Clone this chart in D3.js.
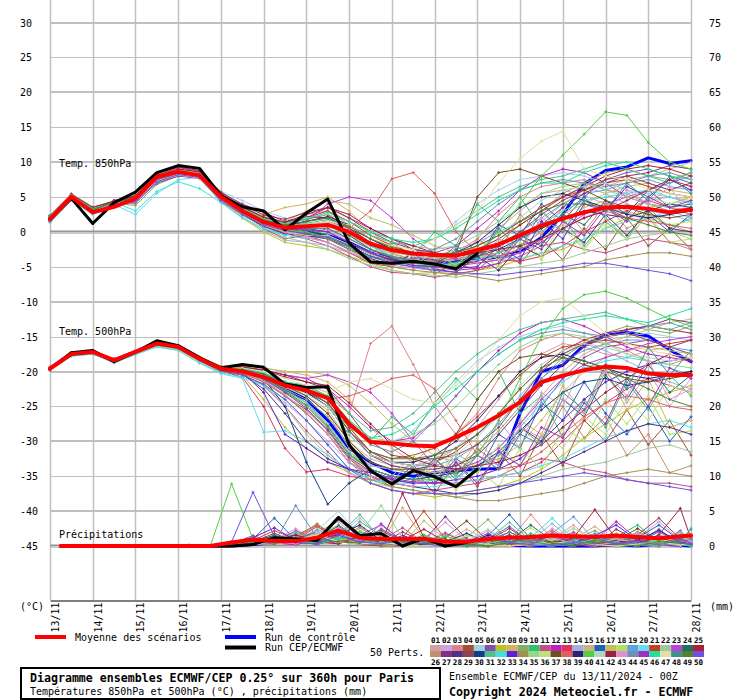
<!DOCTYPE html>
<html><head><meta charset="utf-8">
<script src="https://cdn.jsdelivr.net/npm/d3@7"></script>
<style>body{margin:0;background:#fff} svg{display:block} text{font-family:"DejaVu Sans Mono",monospace}</style>
</head><body><svg id="c" width="740" height="700"></svg>
<script>
const dayLabels = ["13/11","14/11","15/11","16/11","17/11","18/11","19/11","20/11","21/11","22/11","23/11","24/11","25/11","26/11","27/11","28/11"];
const leftTicks = [30,25,20,15,10,5,0,-5,-10,-15,-20,-25,-30,-35,-40,-45];
const rightTicks = [75,70,65,60,55,50,45,40,35,30,25,20,15,10,5,0];
const memberColors = ["#d4a0a8","#d0a0e0","#e08088","#a05030","#a0d0e8","#8050b0","#c0c020","#d8b060","#80b060","#30c070","#c05080","#c020c0","#e03060","#a0b0e0","#d0b080","#2060c0","#c0c060","#b0e060","#60a0e0","#60e0f0","#c04020","#a0c8a0","#c040e0","#207060","#b02030",
"#c09070","#803080","#503080","#904050","#104080","#50c090","#40e0e0","#6020d0","#a09050","#90d890","#c0e080","#705020","#e06060","#302070","#50d040","#b0d8c0","#a02040","#e090d0","#7090b0","#a030c0","#20e0a0","#e0e0a0","#409090","#508030","#7050e0"];

// temperatures every 12h from 13/11 00Z ; precipitation at 06Z/18Z steps
const t850Mean = [1.8,5.0,2.8,3.6,4.8,7.9,8.6,8.1,5.0,3.0,1.4,0.6,0.8,1.0,0.0,-1.7,-2.6,-3.1,-3.3,-3.4,-2.6,-1.8,-0.5,0.9,1.9,2.8,3.5,3.6,3.3,2.8,3.2];
const t850Ctrl = [1.8,5.0,3.0,4.0,4.6,7.5,8.6,8.2,4.8,3.0,1.5,0.5,0.0,-0.5,-1.5,-3.0,-3.8,-4.0,-4.2,-4.5,-4.0,-3.6,-2.8,-0.8,2.5,6.9,8.8,9.3,10.6,9.8,10.2];
const t850Det = [1.8,4.8,1.2,4.2,5.7,8.5,9.5,9.1,5.2,3.6,3.0,0.3,2.7,4.7,-1.6,-4.3,-4.5,-4.2,-4.6,-5.3,-3.1];
const t500Mean = [-19.6,-17.5,-17.2,-18.4,-17.2,-16.0,-16.5,-18.2,-19.6,-20.0,-20.8,-22.0,-22.7,-23.8,-27.5,-30.1,-30.3,-30.6,-30.7,-29.4,-28.0,-26.3,-24.4,-21.5,-20.6,-19.8,-19.3,-19.5,-20.3,-20.5,-20.5];
const t500Ctrl = [-19.5,-17.5,-17.3,-18.5,-17.3,-16.0,-16.5,-18.2,-19.8,-19.8,-20.5,-22.5,-24.0,-27.0,-31.0,-33.0,-34.5,-35.0,-34.5,-34.2,-34.0,-33.9,-26.0,-20.0,-19.1,-16.2,-14.8,-14.4,-14.9,-16.9,-18.6];
const t500Det = [-19.6,-17.3,-17.0,-18.6,-17.2,-15.6,-16.3,-18.0,-19.5,-19.0,-19.4,-21.8,-22.3,-22.2,-30.5,-34.2,-36.1,-34.2,-35.1,-36.5,-34.0];
const precipMean = [0,0,0,0,0,0,0,0,0.5,0.9,0.7,0.7,1.2,2.2,1.2,1.0,1.0,1.0,0.6,0.6,1.0,1.2,1.3,1.5,1.4,1.3,1.5,1.3,1.1,1.4,1.5];
const precipCtrl = [0,0,0,0,0,0,0,0,0,0.2,0.5,0.8,0.4,1.0,1.5,0.6,0.4,0.3,0.2,0.3,0.5,0.1,0,0,0,0,0.2,0,0.3,0.1,0];
const precipDet = [0,0,0,0,0,0,0,0,0,0.2,1.2,1.0,0.8,4.1,1.5,1.8,0,1.1,0,0.5];

const t850Members = [
[1.5,4.8,2.8,4.2,4.5,7.2,8.3,7.8,4.6,3.2,1.0,0.2,1.5,0.5,-1.5,-3.0,-3.8,-4.2,-4.0,-3.5,-2.0,0.5,3.0,5.5,6.0,5.2,4.0,3.5,4.5,5.0,4.2],
[2.2,5.3,3.4,4.0,5.2,8.0,8.8,8.3,5.5,2.5,0.8,-0.5,0.2,1.8,0.5,-2.5,-4.5,-5.0,-4.8,-5.2,-4.0,-3.5,-3.0,-1.5,0.5,2.0,3.5,2.8,1.5,2.5,3.0],
[1.8,4.9,3.1,4.4,4.0,7.5,8.6,8.2,4.9,3.5,2.0,1.2,2.5,3.0,1.0,-1.0,-2.5,-3.5,-4.0,-3.0,-1.0,2.5,5.0,6.5,7.0,7.5,6.0,5.5,4.0,3.0,3.5],
[1.6,5.1,3.0,3.8,4.6,7.8,8.4,7.9,5.2,3.0,0.5,-1.0,-0.5,-1.5,-3.0,-4.5,-5.0,-3.5,-6.0,-4.5,-5.5,-2.8,-4.5,-1.0,-4.0,0.5,-2.5,2.0,-2.0,0.5,-2.5],
[2.0,5.2,3.3,4.1,4.9,7.0,8.2,8.5,5.8,4.5,3.0,2.0,1.0,0.0,-1.0,-2.0,-3.0,-2.5,-1.0,1.5,4.0,6.0,7.5,8.0,8.5,8.0,7.0,6.0,5.5,5.0,4.5],
[1.7,4.7,2.9,4.3,5.0,7.9,9.0,8.6,5.0,2.8,1.5,0.5,0.0,-1.0,-2.5,-3.5,-4.0,-4.5,-4.2,-3.8,-3.5,-3.0,-2.0,0.0,2.5,5.0,7.5,8.5,9.0,8.0,7.0],
[2.3,5.0,3.5,4.5,4.3,7.4,8.5,8.0,4.4,2.0,0.0,-1.5,-2.0,-2.5,-3.5,-4.5,-5.5,-6.0,-5.8,-6.2,-5.5,-5.0,-4.0,-3.0,-2.5,-1.0,0.5,2.0,3.5,4.0,5.0],
[1.9,5.4,3.2,4.0,4.7,7.6,8.7,8.1,5.3,3.8,2.5,3.5,4.0,5.0,3.0,0.0,-2.0,-3.5,-4.0,-4.5,-4.2,-3.5,-2.5,-1.0,1.0,3.5,4.5,3.0,2.0,1.0,0.0],
[1.4,4.6,2.7,4.1,3.8,6.8,8.0,7.8,4.8,3.0,1.2,0.8,1.5,2.0,0.5,-1.5,-3.0,-4.0,-4.5,-4.0,-3.0,-1.5,1.0,3.0,5.5,7.0,8.5,9.0,8.0,7.5,8.5],
[2.1,5.0,3.0,3.9,5.1,7.7,8.5,8.2,5.0,3.3,1.8,1.0,0.5,-0.5,-2.0,-3.0,-1.5,-3.5,0.0,-2.0,4.0,1.5,5.0,0.5,2.0,-2.0,1.5,-1.0,3.5,0.5,2.0],
[1.8,5.1,3.1,4.2,4.8,7.5,8.4,7.9,4.7,2.6,0.9,-0.2,-1.0,-2.0,-3.5,-5.0,-5.8,-6.0,-6.5,-6.0,-5.5,-4.5,-3.5,-2.0,-1.5,-2.5,-3.0,-2.0,-1.0,-1.5,-2.0],
[2.0,4.9,3.3,4.0,4.4,7.3,8.3,8.4,5.6,4.0,2.8,1.5,2.0,3.5,2.0,0.5,-1.0,-2.5,-3.0,-2.0,0.5,3.0,6.0,8.0,9.0,8.5,7.0,5.0,4.0,3.5,3.0],
[1.6,4.8,2.6,4.5,4.9,8.1,9.2,8.7,5.1,3.1,1.1,0.0,-0.5,0.5,-1.0,-2.5,-3.5,-4.0,-4.5,-4.8,-4.5,-4.0,-4.2,-3.5,-2.0,0.0,1.5,3.0,4.5,3.5,2.5],
[1.5,5.0,3.0,3.7,4.6,7.6,8.6,8.0,4.5,2.2,0.2,-1.2,-1.5,-2.0,-3.0,-4.0,-4.5,-4.0,-3.5,-2.5,-1.5,0.0,1.5,3.5,5.0,6.5,5.5,4.0,3.0,2.5,1.5],
[2.4,5.5,3.6,4.3,5.3,8.2,8.9,8.5,5.4,3.4,1.6,0.4,0.8,1.0,-0.5,-2.0,-3.2,-4.0,-4.2,-4.0,-3.8,-3.0,-1.0,1.5,4.0,6.0,6.5,7.5,8.0,9.0,10.0],
[1.7,4.7,2.9,4.1,4.2,7.1,8.2,7.7,4.3,2.7,1.3,0.6,-0.5,-1.0,-2.5,-4.0,-5.0,-3.0,-5.5,-2.5,-4.0,1.0,-0.5,4.0,1.5,5.0,2.0,-1.0,2.5,0.0,2.5],
[2.0,5.2,3.2,4.0,4.8,7.8,8.8,8.2,5.0,3.6,2.2,1.5,3.0,4.5,4.0,2.0,1.0,-0.5,-2.0,-3.0,-3.5,-3.0,-2.0,0.0,2.5,4.0,5.5,6.5,7.0,6.0,5.5],
[1.8,5.0,3.0,4.4,4.6,7.4,8.4,8.0,4.8,2.9,1.2,0.3,0.5,0.0,-1.5,-3.0,-4.0,-4.5,-2.5,-5.5,-3.0,-5.0,-1.5,-4.0,0.5,-2.5,2.0,-1.0,2.5,-1.5,-1.0],
[1.9,4.8,3.1,4.2,4.9,7.7,8.5,8.1,5.1,3.0,1.4,0.7,1.0,1.5,0.0,-2.0,-3.5,-4.2,-4.5,-4.2,-3.5,-2.0,0.0,2.0,4.0,5.5,6.0,7.0,7.5,6.5,6.0],
[1.3,4.5,2.5,3.9,2.5,5.5,7.5,7.8,4.9,3.1,1.0,-0.5,-1.0,-0.5,-2.0,-3.5,-4.5,-5.0,-4.8,-4.5,-4.0,-3.5,-3.8,-3.0,-2.0,-1.0,0.5,1.5,2.0,3.0,2.0],
[2.2,5.1,3.4,4.3,5.0,7.9,8.8,8.3,5.2,3.3,1.7,1.0,2.0,3.0,1.5,-0.5,-2.0,-3.0,-3.5,-3.0,-2.0,-0.5,1.5,3.5,5.0,6.0,7.0,7.5,6.5,5.5,5.0],
[1.6,4.9,2.8,4.0,4.4,7.2,8.1,7.6,4.4,2.4,0.6,-0.8,-1.5,-2.5,-3.8,-4.8,-5.5,-6.0,-6.2,-6.5,-6.0,-5.5,-5.0,-4.5,-4.0,-3.0,-2.0,-1.0,-0.5,0.0,-1.0],
[2.0,5.3,3.3,4.1,4.7,7.6,8.6,8.1,5.0,3.2,1.5,0.8,1.5,4.0,5.0,4.5,2.0,-1.0,-3.0,-4.0,-4.5,-4.0,-3.0,-1.5,0.5,2.5,4.0,5.0,6.0,7.0,8.0],
[1.8,5.0,3.0,4.2,4.8,7.5,8.5,8.0,4.9,3.0,1.4,0.6,0.2,-0.5,-2.0,-3.5,-4.2,-4.5,-4.8,-5.0,-2.5,-4.0,-0.5,-2.0,2.5,1.0,4.5,2.5,6.0,3.5,4.0],
[1.7,4.6,2.7,4.5,5.1,8.0,8.7,8.4,5.3,3.5,2.0,1.2,1.8,2.5,0.5,-1.5,-2.8,-3.5,-3.8,-3.5,-2.5,-1.0,1.0,3.0,5.0,6.5,8.0,9.0,9.5,9.0,8.0],
[2.1,5.2,3.2,3.9,4.5,7.3,8.2,7.9,4.6,2.8,1.1,0.1,-0.8,-1.5,-3.0,-4.2,-5.0,-5.5,-3.5,-4.8,-1.0,-3.0,2.5,-0.5,3.5,0.0,4.0,0.5,2.0,-1.5,-2.5],
[1.9,5.0,3.1,4.3,4.9,7.8,8.7,8.2,5.1,3.4,1.9,1.3,2.2,2.0,0.5,-1.0,-2.5,-3.5,-4.0,-4.5,-4.2,-3.0,-1.0,1.0,3.5,5.5,7.0,8.0,8.5,9.5,9.0],
[1.5,4.7,2.8,4.0,4.3,7.0,8.0,7.7,4.5,2.5,0.8,-0.3,-0.5,-1.0,-2.2,-3.8,-4.8,-3.0,-5.3,-5.8,-3.5,-5.5,-2.0,-3.5,0.5,-1.5,2.5,-0.5,3.0,0.5,0.0],
[2.3,5.4,3.5,4.4,5.2,8.3,9.3,8.8,5.7,3.9,2.4,1.8,2.8,3.5,2.0,0.0,-1.5,-2.5,-3.0,-3.5,-3.0,-2.0,0.0,2.5,4.5,6.0,7.5,8.0,7.0,6.0,7.0],
[1.8,4.9,3.0,4.1,4.6,7.5,8.4,8.0,4.8,2.9,1.3,0.5,0.0,-0.5,-1.8,-3.2,-4.0,-4.5,-4.5,-4.2,-3.5,-2.5,-1.0,0.5,2.0,3.0,2.5,2.0,3.0,4.0,3.5],
[2.0,5.1,3.2,4.2,4.8,7.6,8.5,8.1,5.0,3.1,1.5,0.8,1.2,1.8,0.8,-0.5,-1.5,-2.0,-1.0,1.0,3.0,5.0,6.5,7.5,8.0,9.0,10.0,9.0,8.0,7.0,8.5],
[1.4,4.5,2.6,4.3,3.0,5.8,7.2,6.2,4.2,2.0,0.5,-0.5,0.5,1.0,-0.5,-2.0,-3.5,-4.5,-5.0,-4.5,-4.0,-3.0,-1.0,1.0,3.0,4.5,5.0,5.5,6.0,5.0,4.0],
[1.9,5.0,3.1,4.0,4.7,7.7,8.6,8.2,5.1,3.2,1.6,0.7,0.5,0.0,-1.5,-3.0,-4.0,-4.8,-5.0,-5.2,-5.0,-2.0,-4.0,1.5,-1.0,4.0,3.0,6.5,5.0,7.5,6.0],
[1.7,4.8,2.9,4.2,4.5,7.4,8.3,7.9,4.7,2.8,1.2,0.4,-0.2,-1.0,-2.5,-4.0,-5.0,-5.5,-5.8,-6.0,-6.5,-7.0,-6.5,-6.0,-5.5,-5.0,-4.0,-3.5,-3.0,-3.0,-3.5],
[2.2,5.2,3.4,4.3,5.0,7.9,8.8,8.4,5.3,3.4,1.9,1.2,2.0,2.5,1.5,0.0,-1.0,-2.0,-2.5,-2.0,-0.5,1.5,3.5,5.5,6.5,7.0,6.0,5.0,4.0,3.5,3.0],
[1.6,4.7,2.8,4.1,4.4,7.2,8.2,7.8,4.6,2.7,1.0,0.0,-0.5,-0.5,-1.8,-3.2,-4.2,-4.8,-3.0,-4.8,-2.0,-4.0,-1.0,-3.5,1.5,-2.5,1.0,-1.0,2.5,1.0,1.5],
[2.0,5.1,3.2,4.2,4.8,7.6,8.5,8.1,4.9,3.0,1.4,0.6,0.8,1.0,-0.5,-2.5,-3.8,-4.5,-4.5,-3.0,5.0,8.5,9.0,8.0,7.0,6.0,4.5,3.5,2.5,2.0,2.5],
[1.8,4.9,3.0,4.0,4.6,7.5,8.4,8.0,4.8,2.9,1.3,0.5,1.0,1.5,0.5,3.0,7.6,8.5,5.5,0.0,-3.0,-3.5,-2.5,-1.0,0.5,2.0,3.0,2.0,1.5,1.0,0.5],
[2.1,5.0,3.1,4.3,4.9,7.8,8.7,8.3,5.1,3.2,1.6,0.9,1.5,2.2,1.0,-1.0,-2.5,-3.2,-3.5,-3.0,-1.5,1.0,3.5,5.0,5.5,4.5,3.5,2.5,2.0,2.5,3.0],
[1.6,4.8,2.9,4.1,4.5,7.3,8.3,7.9,4.7,2.8,1.2,0.3,0.0,-0.8,-2.2,-3.6,-4.5,-5.0,-5.2,-4.8,-3.0,0.0,4.0,8.0,11.0,14.0,17.2,16.7,12.8,10.0,9.0],
[1.9,5.1,3.2,4.0,4.8,7.7,8.6,8.1,5.0,3.1,1.5,0.8,1.0,1.5,0.2,-1.5,-2.8,-3.5,-3.8,-3.5,-2.5,-0.5,2.0,4.5,6.0,6.5,7.0,6.0,5.0,4.0,4.5],
[2.3,5.3,3.5,4.4,5.1,8.1,9.0,8.6,5.5,3.6,2.1,1.4,2.5,3.5,2.5,0.5,-1.0,-2.0,-3.0,-3.5,-3.0,-2.5,-2.0,-1.0,0.5,2.0,3.0,4.5,6.0,7.5,6.5],
[1.5,4.6,2.7,4.2,4.3,7.1,8.1,7.7,4.5,2.6,1.0,0.0,-0.8,-1.5,-2.8,-4.0,-4.8,-5.2,-5.5,-3.0,-4.5,-1.0,-2.5,2.0,0.0,4.5,2.5,6.0,4.0,6.5,2.0],
[2.0,5.0,3.1,4.1,4.7,7.6,8.5,8.0,4.9,3.0,1.4,0.6,0.8,1.2,0.0,-1.5,-2.5,-3.0,-2.5,-1.0,1.5,4.0,6.0,7.0,7.5,7.0,6.5,7.0,8.0,8.5,7.5],
[1.8,4.9,3.0,4.3,4.6,7.4,8.4,8.0,4.8,2.9,1.2,0.4,0.3,0.0,-1.5,-3.0,-4.2,-4.8,-5.0,-5.5,-5.2,-4.5,-1.0,-2.5,1.5,-0.5,3.5,1.5,5.0,3.5,4.5],
[2.2,5.2,3.3,4.0,5.0,7.8,8.7,8.3,5.2,3.3,1.8,1.1,1.8,2.8,1.5,0.0,-1.0,-1.5,-1.0,0.5,2.5,4.5,6.0,7.0,7.0,8.5,9.5,10.0,9.0,8.0,7.5],
[1.7,4.8,2.9,4.1,4.5,7.3,8.2,7.8,4.6,2.7,1.0,0.5,1.0,1.5,1.0,-1.0,-2.0,-2.5,-1.0,1.0,3.0,7.0,10.5,13.0,14.4,9.0,8.0,7.5,6.0,5.5,5.0],
[1.9,5.0,3.1,4.2,4.8,7.6,8.5,8.1,5.0,3.1,1.5,0.7,0.5,0.5,-1.0,-2.5,-3.5,-4.2,-4.5,-2.0,-4.0,0.5,-2.5,3.0,0.0,4.5,3.0,7.0,4.5,8.0,5.5],
[2.1,5.1,3.2,4.3,4.9,7.8,8.6,8.2,5.1,3.2,1.7,1.0,1.5,2.0,0.8,-1.0,-2.2,-3.0,-3.2,-3.0,-2.0,-0.5,1.5,3.0,4.0,4.0,3.5,2.0,1.0,0.0,-0.5],
[1.6,4.7,2.8,4.0,4.4,7.2,8.2,7.8,4.5,2.6,1.0,0.2,-0.3,-0.8,-2.0,-3.5,-4.5,-5.0,-5.5,-5.8,-6.0,-6.2,-5.8,-5.5,-5.0,-4.5,-4.5,-5.0,-5.5,-6.0,-7.0]
];

const t500Members = [
[-19.5,-17.4,-17.0,-18.3,-17.0,-15.8,-16.3,-18.0,-19.3,-19.5,-20.3,-22.0,-23.5,-26.0,-31.0,-33.5,-34.0,-34.5,-33.0,-31.0,-28.0,-24.0,-20.0,-17.5,-16.0,-16.5,-17.5,-18.0,-17.0,-16.5,-17.5],
[-19.8,-17.7,-17.3,-18.6,-17.4,-16.2,-16.7,-18.5,-20.0,-20.5,-22.0,-24.5,-27.0,-30.0,-33.0,-34.5,-35.5,-33.0,-36.5,-31.5,-34.0,-27.0,-31.0,-23.0,-25.0,-19.0,-20.5,-24.5,-20.0,-25.0,-21.0],
[-19.4,-17.3,-17.1,-18.2,-17.1,-15.9,-16.4,-18.1,-19.4,-19.6,-20.2,-21.5,-22.0,-23.5,-26.0,-16.0,-13.5,-19.0,-25.0,-29.0,-26.0,-21.0,-17.0,-15.5,-14.5,-15.5,-16.0,-17.0,-18.5,-19.0,-18.0],
[-19.7,-17.6,-17.4,-18.5,-17.3,-16.1,-16.6,-18.3,-19.8,-20.2,-21.5,-23.5,-25.5,-28.5,-32.5,-35.0,-36.5,-34.0,-37.5,-33.0,-36.5,-31.5,-35.0,-29.0,-33.5,-27.0,-30.0,-25.5,-30.5,-27.0,-32.0],
[-19.5,-17.5,-17.2,-18.4,-17.2,-16.0,-16.4,-18.1,-19.5,-19.7,-20.5,-21.5,-22.5,-24.0,-27.5,-30.0,-30.5,-28.5,-25.0,-21.5,-18.5,-16.5,-15.0,-14.0,-13.5,-14.5,-15.5,-15.0,-14.5,-15.0,-15.5],
[-19.6,-17.5,-17.1,-18.4,-17.1,-15.9,-16.5,-18.2,-19.6,-20.0,-21.0,-23.0,-25.0,-28.0,-32.0,-34.0,-35.0,-35.5,-35.0,-34.5,-33.5,-32.0,-29.0,-25.0,-21.0,-18.0,-16.5,-16.0,-15.5,-16.5,-17.5],
[-19.8,-17.6,-17.4,-18.7,-17.5,-16.4,-17.0,-18.8,-20.0,-20.5,-24.0,-28.0,-31.0,-33.0,-34.5,-36.0,-37.0,-37.5,-38.0,-37.5,-37.0,-36.5,-35.5,-34.0,-32.0,-29.5,-27.5,-25.5,-24.0,-23.0,-22.0],
[-19.5,-17.3,-17.0,-18.2,-17.0,-15.7,-16.2,-17.9,-19.2,-19.0,-19.5,-20.0,-20.5,-21.5,-24.0,-28.0,-31.0,-33.0,-30.5,-34.5,-30.0,-33.0,-27.0,-29.0,-22.0,-26.0,-19.5,-25.5,-21.0,-28.0,-27.0],
[-19.6,-17.4,-17.2,-18.3,-17.2,-16.0,-16.5,-18.2,-19.6,-19.9,-20.8,-22.5,-24.0,-26.5,-30.5,-33.0,-34.0,-34.5,-34.5,-33.5,-31.5,-28.5,-25.0,-21.0,-18.0,-16.0,-14.5,-13.5,-14.0,-14.5,-13.5],
[-19.7,-17.6,-17.3,-18.5,-17.3,-16.1,-16.6,-18.3,-19.7,-20.0,-20.6,-22.0,-23.0,-25.0,-28.0,-30.0,-26.5,-29.0,-24.5,-21.0,-24.0,-20.0,-26.0,-23.5,-29.5,-24.0,-28.0,-21.5,-25.5,-20.5,-23.5],
[-19.6,-17.5,-17.2,-18.4,-17.2,-16.0,-16.5,-18.3,-19.8,-20.4,-22.0,-25.0,-28.5,-31.5,-34.5,-36.0,-37.0,-37.5,-37.0,-36.5,-36.0,-35.0,-33.5,-32.5,-33.0,-34.0,-34.5,-35.5,-36.0,-36.0,-36.5],
[-19.4,-17.3,-17.0,-18.2,-17.0,-15.8,-16.3,-18.0,-19.4,-19.5,-19.8,-20.5,-21.0,-22.5,-25.0,-28.0,-30.0,-29.5,-27.0,-23.5,-20.0,-17.0,-14.5,-13.0,-12.5,-13.5,-15.0,-16.5,-17.5,-18.0,-18.5],
[-19.8,-17.7,-17.4,-18.6,-17.4,-16.2,-16.7,-18.4,-19.9,-20.8,-25.0,-31.0,-34.4,-34.0,-35.0,-35.5,-35.0,-35.5,-36.0,-36.0,-35.5,-35.0,-34.5,-33.0,-30.0,-27.0,-24.5,-22.5,-21.0,-22.0,-23.0],
[-19.5,-17.4,-17.1,-18.3,-17.1,-15.9,-16.4,-18.1,-19.5,-19.8,-20.8,-22.5,-24.5,-27.5,-31.5,-33.5,-34.0,-33.5,-32.5,-31.0,-29.0,-26.5,-23.5,-20.0,-17.5,-16.0,-17.0,-18.5,-20.0,-21.5,-22.5],
[-19.6,-17.5,-17.2,-18.5,-17.2,-16.0,-16.4,-18.2,-19.6,-19.8,-20.7,-22.3,-23.5,-25.5,-30.0,-32.5,-33.5,-34.0,-34.5,-34.0,-33.0,-31.0,-27.5,-23.5,-20.0,-17.5,-16.0,-15.0,-14.0,-13.0,-12.5],
[-19.7,-17.6,-17.3,-18.5,-17.3,-16.1,-16.6,-18.3,-19.8,-20.2,-21.3,-23.5,-26.0,-29.0,-33.0,-35.0,-36.0,-33.5,-36.0,-32.5,-34.5,-29.0,-31.0,-24.5,-27.0,-21.5,-26.0,-29.0,-25.0,-30.0,-26.5],
[-19.4,-17.3,-17.0,-18.2,-17.0,-15.8,-16.3,-18.0,-19.3,-19.2,-19.5,-20.0,-20.0,-20.5,-22.0,-24.5,-27.5,-30.0,-32.0,-33.0,-33.5,-32.5,-30.5,-27.0,-23.0,-20.0,-18.0,-17.0,-16.5,-17.0,-17.5],
[-19.6,-17.5,-17.2,-18.4,-17.2,-16.0,-16.5,-18.2,-19.7,-20.1,-21.2,-23.0,-25.0,-28.0,-32.0,-34.5,-35.5,-36.0,-33.5,-37.0,-34.0,-36.5,-31.0,-34.0,-28.0,-30.0,-24.0,-27.5,-23.5,-29.0,-28.5],
[-19.5,-17.4,-17.1,-18.3,-17.1,-15.9,-16.4,-18.1,-19.5,-19.7,-20.5,-22.0,-23.0,-25.0,-29.0,-32.0,-33.0,-33.5,-33.5,-32.5,-30.5,-27.5,-24.0,-21.0,-18.5,-17.0,-16.0,-15.5,-15.5,-16.5,-17.0],
[-19.8,-17.8,-17.5,-18.8,-17.6,-16.5,-17.0,-18.8,-20.3,-21.0,-28.7,-28.5,-30.0,-32.0,-34.0,-35.5,-36.0,-36.5,-36.5,-36.0,-35.5,-35.0,-34.5,-33.5,-32.5,-31.0,-29.5,-28.5,-27.5,-27.0,-28.0],
[-19.5,-17.4,-17.1,-18.3,-17.1,-15.9,-16.4,-18.1,-19.5,-19.6,-20.3,-21.8,-22.8,-24.5,-28.5,-31.5,-32.5,-32.0,-31.0,-29.0,-26.5,-23.5,-20.5,-18.0,-16.5,-16.0,-15.5,-16.0,-16.5,-16.0,-15.5],
[-19.7,-17.6,-17.3,-18.5,-17.3,-16.1,-16.6,-18.4,-19.9,-20.5,-21.8,-25.0,-29.0,-32.0,-34.5,-36.0,-36.5,-37.0,-37.5,-38.0,-37.5,-37.0,-36.0,-35.0,-34.0,-33.5,-33.0,-32.0,-31.0,-30.5,-31.5],
[-19.5,-17.3,-17.0,-18.2,-17.0,-15.8,-16.3,-18.0,-19.4,-19.4,-19.8,-20.5,-21.0,-20.5,-21.5,-23.0,-26.0,-30.0,-33.5,-34.0,-33.0,-31.0,-27.5,-24.0,-21.0,-19.0,-18.0,-17.0,-16.0,-15.5,-15.0],
[-19.6,-17.5,-17.2,-18.4,-17.2,-16.0,-16.5,-18.2,-19.6,-19.9,-20.9,-22.6,-24.5,-27.5,-31.5,-34.0,-35.0,-35.5,-32.5,-35.0,-31.0,-33.5,-28.0,-30.0,-24.0,-26.5,-20.5,-24.0,-19.0,-23.0,-20.5],
[-19.5,-17.4,-17.1,-18.3,-17.1,-15.9,-16.4,-18.1,-19.5,-19.7,-20.4,-21.8,-22.5,-24.0,-28.0,-31.5,-33.0,-33.5,-33.0,-31.5,-29.0,-26.0,-22.5,-19.5,-17.0,-15.5,-14.5,-14.0,-13.5,-14.0,-14.5],
[-19.7,-17.6,-17.3,-18.5,-17.3,-16.1,-16.6,-18.3,-19.8,-20.3,-21.5,-23.5,-26.0,-29.0,-32.5,-34.5,-35.5,-36.0,-32.5,-35.0,-31.0,-33.5,-28.0,-30.5,-25.0,-29.5,-26.5,-32.0,-29.0,-34.5,-33.5],
[-19.5,-17.4,-17.1,-18.3,-17.1,-15.9,-16.4,-18.1,-19.5,-19.7,-20.5,-22.2,-23.0,-24.5,-28.5,-32.0,-33.5,-34.0,-34.0,-33.5,-32.0,-29.0,-25.5,-22.0,-19.0,-16.5,-15.0,-14.0,-13.5,-12.5,-13.0],
[-19.8,-17.7,-17.4,-18.6,-17.4,-16.2,-16.7,-18.4,-19.9,-20.4,-22.5,-26.0,-30.0,-32.5,-34.0,-35.0,-36.0,-36.5,-37.0,-37.5,-37.5,-37.0,-36.0,-34.5,-33.0,-31.5,-30.0,-28.5,-27.5,-28.0,-29.0],
[-19.4,-17.3,-17.0,-18.2,-17.0,-15.8,-16.3,-18.0,-19.3,-19.3,-19.8,-20.8,-21.5,-22.5,-26.0,-30.0,-32.0,-32.5,-32.5,-32.0,-30.5,-28.0,-24.0,-20.0,-17.5,-16.0,-15.0,-14.5,-15.5,-16.5,-15.5],
[-19.6,-17.5,-17.2,-18.4,-17.2,-16.0,-16.5,-18.2,-19.6,-20.0,-21.0,-25.0,-33.0,-39.0,-36.0,-34.0,-35.0,-35.5,-35.0,-34.5,-33.5,-31.5,-28.5,-25.5,-23.0,-21.5,-21.0,-22.0,-21.5,-20.5,-20.0],
[-19.5,-17.4,-17.1,-18.3,-17.1,-15.9,-16.4,-18.1,-19.5,-19.6,-20.2,-21.5,-22.0,-23.0,-26.0,-28.5,-28.0,-26.0,-23.0,-20.0,-17.5,-15.5,-14.0,-13.0,-12.5,-12.0,-11.5,-12.5,-13.5,-14.0,-13.0],
[-19.8,-17.8,-17.5,-18.7,-17.5,-16.3,-16.8,-18.6,-20.2,-20.8,-22.0,-24.0,-27.0,-30.5,-34.0,-35.5,-36.0,-36.0,-35.5,-35.0,-34.0,-32.0,-28.0,-24.5,-21.5,-19.5,-18.5,-18.0,-18.5,-19.5,-20.5],
[-19.6,-17.5,-17.2,-18.4,-17.2,-16.0,-16.5,-18.2,-19.7,-20.1,-23.0,-29.0,-31.0,-33.0,-34.0,-34.5,-35.5,-36.0,-36.0,-35.5,-35.0,-34.0,-32.5,-30.0,-27.0,-24.0,-21.5,-20.0,-19.0,-18.5,-18.0],
[-19.7,-17.6,-17.3,-18.5,-17.3,-16.1,-16.6,-18.3,-19.8,-20.3,-21.4,-23.4,-26.0,-29.0,-33.0,-35.5,-36.5,-37.0,-37.5,-38.0,-38.5,-38.5,-38.0,-37.5,-37.0,-36.0,-35.0,-34.5,-34.0,-34.5,-35.0],
[-19.5,-17.4,-17.1,-18.3,-17.1,-15.9,-16.4,-18.1,-19.5,-19.6,-20.3,-21.6,-22.4,-23.5,-27.0,-29.5,-30.0,-29.0,-27.5,-25.0,-22.0,-19.0,-16.5,-15.0,-14.5,-15.0,-16.0,-17.5,-18.5,-19.0,-19.5],
[-19.6,-17.5,-17.2,-18.4,-17.2,-16.0,-16.5,-18.2,-19.6,-20.0,-21.0,-22.8,-24.5,-27.5,-31.5,-34.0,-35.0,-32.0,-35.5,-31.5,-34.5,-30.5,-33.5,-29.0,-31.0,-26.5,-29.0,-24.0,-27.0,-22.0,-23.0],
[-19.5,-17.4,-17.1,-18.3,-17.1,-15.9,-16.4,-18.1,-19.5,-19.7,-20.5,-22.0,-23.5,-26.0,-30.0,-33.0,-34.0,-34.0,-33.5,-29.0,-24.0,-20.0,-18.0,-17.5,-18.0,-19.0,-20.0,-21.0,-21.5,-21.0,-20.5],
[-19.6,-17.5,-17.2,-18.4,-17.2,-16.0,-16.5,-18.2,-19.6,-19.9,-20.6,-22.0,-23.0,-24.0,-23.5,-22.5,-21.0,-20.5,-22.5,-27.0,-32.0,-34.0,-33.5,-31.5,-29.0,-26.5,-24.5,-23.5,-24.0,-25.0,-25.5],
[-19.5,-17.4,-17.1,-18.3,-17.1,-15.9,-16.4,-18.1,-19.5,-19.7,-20.4,-21.9,-23.0,-25.0,-29.0,-32.0,-33.0,-33.0,-32.0,-30.0,-27.0,-23.5,-20.0,-18.0,-17.5,-18.5,-19.5,-20.5,-21.0,-20.5,-20.0],
[-19.6,-17.5,-17.2,-18.4,-17.2,-16.0,-16.5,-18.2,-19.6,-20.0,-21.0,-22.9,-25.0,-28.0,-32.0,-34.0,-35.0,-35.5,-35.5,-34.5,-32.0,-27.0,-21.0,-15.0,-11.0,-9.0,-8.5,-9.5,-11.0,-12.5,-13.5],
[-19.5,-17.4,-17.1,-18.3,-17.1,-15.9,-16.4,-18.1,-19.5,-19.7,-20.5,-22.0,-23.2,-25.0,-29.0,-32.0,-33.0,-33.5,-33.0,-32.0,-29.5,-26.0,-22.0,-19.0,-17.0,-16.0,-16.5,-17.5,-18.0,-18.5,-18.0],
[-19.4,-17.3,-17.0,-18.2,-17.0,-15.8,-16.3,-18.0,-19.4,-19.4,-19.8,-20.5,-21.5,-22.0,-24.5,-27.5,-30.5,-32.5,-33.5,-34.0,-33.5,-33.0,-32.0,-30.5,-28.0,-25.5,-23.0,-21.0,-19.0,-17.5,-18.5],
[-19.7,-17.6,-17.3,-18.5,-17.3,-16.1,-16.6,-18.3,-19.8,-20.2,-21.3,-23.3,-25.8,-29.0,-33.0,-35.0,-36.0,-36.5,-33.0,-36.0,-32.0,-33.5,-28.0,-29.5,-24.0,-26.0,-20.0,-23.5,-18.5,-24.0,-22.5],
[-19.5,-17.4,-17.1,-18.3,-17.1,-15.9,-16.4,-18.1,-19.5,-19.6,-20.3,-21.6,-22.6,-24.0,-27.5,-30.5,-31.5,-30.0,-27.0,-23.5,-20.0,-17.5,-15.5,-14.5,-14.0,-14.5,-15.0,-14.5,-13.5,-13.0,-14.0],
[-19.6,-17.5,-17.2,-18.4,-17.2,-16.0,-16.5,-18.2,-19.7,-20.1,-21.1,-23.0,-25.3,-28.3,-32.3,-34.3,-35.3,-35.8,-36.0,-33.0,-36.0,-31.5,-33.5,-28.0,-29.5,-24.5,-27.5,-21.0,-25.0,-19.5,-21.0],
[-19.5,-17.4,-17.1,-18.3,-17.1,-15.9,-16.4,-18.1,-19.5,-19.6,-20.2,-21.5,-22.2,-23.5,-27.0,-29.5,-29.0,-27.5,-25.0,-22.5,-20.0,-17.5,-15.5,-14.0,-13.0,-12.5,-12.0,-12.5,-13.0,-12.0,-11.0],
[-19.4,-17.3,-17.0,-18.2,-17.0,-15.8,-16.3,-18.0,-19.4,-19.5,-20.0,-21.0,-22.0,-23.0,-21.5,-21.0,-22.5,-24.0,-24.5,-22.0,-19.0,-15.5,-12.0,-10.0,-9.5,-12.0,-14.5,-16.0,-17.0,-17.5,-18.0],
[-19.6,-17.5,-17.2,-18.4,-17.2,-16.0,-16.5,-18.2,-19.6,-20.0,-21.0,-22.8,-24.8,-27.8,-31.8,-34.0,-35.0,-35.5,-32.5,-35.5,-32.0,-34.0,-29.0,-30.5,-23.0,-25.5,-19.0,-22.5,-16.5,-20.5,-17.0],
[-19.5,-17.4,-17.1,-18.3,-17.1,-15.9,-16.4,-18.1,-19.5,-19.7,-20.4,-21.8,-22.8,-24.5,-28.5,-31.5,-32.5,-32.5,-32.0,-31.0,-29.0,-26.0,-22.5,-19.5,-18.0,-18.5,-19.5,-21.0,-22.5,-24.0,-25.0],
[-19.7,-17.6,-17.3,-18.5,-17.3,-16.1,-16.6,-18.3,-19.9,-20.5,-21.8,-24.0,-27.0,-30.5,-34.0,-36.0,-37.0,-37.5,-37.5,-37.5,-37.0,-36.5,-36.0,-35.5,-35.0,-34.5,-35.0,-35.5,-36.0,-36.5,-37.0]
];

const precipMembers = [
[0,0,0,0,0,0,0,0,0.2,0.6,1.2,0.4,2.0,3.5,0.8,0.2,1.5,0.3,0,0.6,2.2,0.5,0,1.0,3.0,0.4,0,1.8,0.6,0.2,1.0],
[0,0,0,0,0,0,0,0,0,0.2,0.8,2.5,0.6,1.5,4.0,1.2,0.3,0,0.5,1.8,0.4,0,0.3,2.5,0.8,0,0.5,1.2,3.5,0.8,0.4],
[0,0,0,0,0,0,0,0,0.2,1.0,0.3,0.5,1.8,0.6,2.8,0.5,0,0.2,1.5,0.3,0,0.8,4.5,1.0,0.2,0,1.4,0.3,0,2.0,0.5],
[0,0,0,0,0,0,0,0,0,0.4,0.6,1.5,3.0,1.0,0.2,0,0,0.5,0.2,0,0,0,0.3,0.8,0.1,0,0,0.5,1.2,0.3,0],
[0,0,0,0,0,0,0,0,0.5,0.8,0.2,1.0,2.2,5.0,1.5,0.4,0,0.6,2.0,0.5,1.2,0.3,0,0.8,2.5,1.0,0.3,0,1.5,0.6,0.2],
[0,0,0,0,0,0,0,0,0.3,1.5,0.5,0.2,0.8,1.6,0.4,3.2,0.6,0,0,0.4,1.0,2.8,0.5,0,0.3,1.2,0,0.6,2.4,0.2,0],
[0,0,0,0,0,0,0.2,0,0,0.3,1.0,2.0,0.5,0.3,1.2,0.2,0,0,0.8,0.2,0,0,0.2,0.5,1.5,0.3,0,0.2,0.8,1.4,0.6],
[0,0,0,0,0,0,0,0,0.4,0.2,0.6,1.2,0.5,2.5,1.0,0.4,5.5,1.0,0.2,0,0.8,0.3,0,2.0,0.5,0,1.0,0.4,0,0.6,1.8],
[0,0,0,0,0,0,0,0,0,0.6,0.3,0.8,1.5,0.6,2.0,0.8,0.2,0,0.5,1.2,3.8,0.6,0.2,0,0.9,2.2,0.4,0,1.6,0.5,0.2],
[0,0,0,0,0,0,0,0,0.2,0.4,1.6,0.6,0.3,1.0,3.5,1.5,0.6,0.2,0,0.3,0.8,0.2,1.8,0.6,0,0.4,1.3,3.0,0.5,0.2,0.8],
[0,0,0,0,0,0,0,0,0,0.3,0.5,0.8,2.8,1.2,0.4,0.8,2.6,0.5,0,0,0.6,0.3,0,0.5,1.4,0.4,0,0.3,0.8,0.2,0.5],
[0,0,0,0,0,0,0,0,0.6,1.2,0.4,0.2,1.0,2.5,0.8,0.3,0.5,1.5,0.4,0,0.5,2.0,0.6,0.2,0,0.8,3.5,1.0,0.3,0,1.2],
[0,0,0,0,0,0,0,0,0.3,0.8,2.2,1.0,0.5,0.8,1.5,0.6,0,0.4,1.8,0.5,0,0.2,0.6,1.4,0.3,0,0.5,1.2,0.4,2.2,0.6],
[0,0,0,0,0,0,0,0,0,0.2,0.6,1.0,0.4,1.8,0.6,2.5,0.8,0.2,0,0.5,0.2,0,0.8,3.2,0.8,0.2,0,0.6,1.5,0.4,0],
[0,0,0,0,0,0,0,0,0.2,0.4,0.2,0.8,1.6,3.0,0.8,0.4,0.2,0,0.6,2.4,0.8,0.3,0,0.4,1.0,2.8,0.6,0.2,0,0.5,1.4],
[0,0,0,0,0,0,0,0,0.5,1.0,4.0,0.8,0.3,1.2,0.5,0.2,0.8,0.3,0,0.2,1.5,4.5,1.0,0.3,0.6,0.2,0,1.2,3.0,0.8,0.3],
[0,0,0,0,0,0,0,0,0,0.3,0.8,0.5,1.2,0.6,2.2,0.8,0.4,3.6,1.0,0.3,0,0.4,0.8,0.2,0,0.6,1.8,0.5,0.2,0.8,0.4],
[0,0,0,0,0,0,0,0,0.2,0.6,0.4,1.4,0.8,2.0,1.0,0.3,0,0.2,0.6,0.2,0,0.8,2.6,0.6,0.2,0,0.4,1.0,0.3,0,0.6],
[0,0,0,0,0,0,0,0,0.4,0.2,1.0,0.6,2.4,0.8,0.3,1.2,0.5,0,0.4,1.0,0.3,0,0.6,1.8,4.2,0.8,0.2,0,0.5,1.6,0.4],
[0,0,0,0,0,0,0,0,0.3,0.8,0.5,1.8,0.6,0.4,1.5,0.5,0.2,0,0.8,0.3,1.2,0.4,0,0.2,0.6,1.5,0.4,0,0.8,0.3,2.6],
[0,0,0,0,0,0,0,0,0,0.4,1.2,0.5,0.3,2.0,0.8,0.4,1.2,5.0,1.0,0.2,0,0.5,1.0,0.3,0,1.6,0.5,0.2,0,1.0,0.4],
[0,0,0,0,0,0,0,0,0.2,0.3,0.6,1.0,1.8,0.6,0.3,0.8,0.3,0,0,0.4,0.2,0,0.3,0.8,0.2,0,0.4,0.6,0.2,0,0.3],
[0,0,0,0,0,0,0,0,0.4,1.0,0.5,2.2,0.8,0.4,1.6,3.0,0.8,0.2,0,0.6,1.4,0.4,0,0.8,2.0,0.5,0.2,1.4,0.6,0.2,0.8],
[0,0,0,0,0,0,0,0,0,0.5,0.8,0.3,1.4,2.8,1.0,0.3,0.6,1.2,0.4,0,0.3,0.8,3.0,0.8,0.3,0,0.6,2.0,0.6,0.3,1.0],
[0,0,0,0,0,0,0,0,0.3,0.6,1.5,0.5,0.8,1.2,0.4,0.2,0.8,2.4,0.6,0,0.5,1.6,0.4,0,1.2,5.2,1.0,0.3,0,0.8,0.4],
[0,0,0,0,0,0,0,0,0.2,0.4,0.3,0.8,1.2,0.5,2.6,0.8,0.3,0,0.4,1.0,0.3,0,0.6,0.2,0,0.5,1.2,0.4,0,0.6,1.5],
[0,0,0,0,0,0,0,0,0.5,1.2,0.6,0.3,1.0,3.8,1.2,0.4,0,0.8,4.2,1.0,0.3,0,0.6,1.5,0.5,0,2.4,0.8,0.3,0,0.6],
[0,0,0,0,0,0,0,0,0,0.3,0.8,1.6,0.6,0.8,0.4,1.2,0.5,0.2,0,0.5,0.8,0.3,0,0.4,1.0,0.3,0,0.5,1.2,0.4,0.2],
[0,0,0,0,0,0,0,0,0.3,0.5,0.3,1.0,2.0,0.8,1.2,0.4,2.0,0.6,0,0.3,0.8,2.5,0.6,0.2,0,0.8,0.3,1.6,4.0,1.0,0.3],
[0,0,0,0,0,0,0,0,0.2,0.8,1.4,0.5,1.5,0.6,0.3,0.8,0.3,0,0.6,1.8,0.5,0,0.3,0.6,0.2,0,0.4,0.8,0.3,0,0.5],
[0,0,0,0,0,0,0,0,0.4,0.3,0.6,2.0,0.8,1.6,4.5,1.0,0.4,0.8,0.3,0,1.0,3.4,0.8,0.3,0,0.6,1.4,0.4,0.2,0.6,0.3],
[0,0,0,0,0,0,0,0,0,0.6,1.0,0.4,0.8,2.2,0.6,0.2,0.5,1.4,0.5,0,0.6,0.2,1.2,4.0,1.0,0.3,0,0.5,0.8,2.0,0.6],
[0,0,0,0,0,0,0,0,0.3,1.2,2.6,0.8,0.4,1.0,0.5,0.3,1.5,0.5,0,0.2,0.6,1.2,0.4,0,0.5,1.5,3.0,0.8,0.2,0,0.8],
[0,0,0,0,0,0,0,0,0.2,0.4,0.6,1.2,3.2,1.0,0.4,0.2,0.6,0.2,0,0.4,1.0,0.3,0,0.6,1.8,0.5,0,0.3,0.6,0.2,1.2],
[0,0,0,0,0,0,0,0,0.4,0.8,0.4,0.6,1.4,0.8,1.8,5.8,1.2,0.4,0.2,0,0.8,0.4,0.2,1.0,0.4,0,0.6,1.8,0.5,0.2,0.4],
[0,0,0,0,0,0,0,0,0,0.3,0.5,0.8,0.6,1.2,0.4,0.6,0.3,0,0.5,1.5,0.6,0.2,0,0.8,2.6,0.8,0.3,0,0.6,1.2,0.5],
[0,0,0,0,0,0,0,0,0.3,0.6,1.8,0.6,0.4,2.4,0.8,0.3,0.8,0.3,1.2,3.6,0.8,0.2,0,0.5,1.2,0.4,0.8,2.5,0.6,0.2,0.5],
[0,0,0,0,0,0,0,0,0.2,0.5,0.4,1.2,2.8,0.8,0.5,1.4,0.5,0.2,0,0.6,0.3,0,0.8,2.2,0.6,0.3,1.2,0.5,0,0.4,1.0],
[0,0,0,0,0,0,0,0,0.4,0.3,0.8,0.5,1.0,1.6,3.0,0.8,0.4,0.2,0.6,0.3,1.6,0.5,0.2,0,0.6,0.3,0,0.8,2.2,0.6,0.3],
[0,0,0,0,0,0,0,0,8.9,1.0,0.5,0.8,0.4,1.2,0.6,0.3,0.6,1.6,0.5,0,0.4,1.0,0.3,0,0.5,0.2,0,0.4,0.8,0.3,0.5],
[0,0,0,0,0,0,0,0,0.2,0.6,1.2,0.4,2.0,0.6,0.3,1.0,0.4,0,0.3,0.8,2.4,0.6,0.2,0,0.8,0.3,1.0,0.4,0,1.4,0.6],
[0,0,0,0,0,0,0,0,0.3,0.4,0.8,1.6,0.6,0.3,1.4,0.5,7.5,1.2,0.4,0.2,0,0.6,1.5,0.5,0,0.3,0.8,0.3,1.6,5.4,1.0],
[0,0,0,0,0,0,0,0,0,0.5,0.6,0.3,1.2,2.6,0.8,0.4,0.2,0.8,3.4,0.8,0.3,0,0.5,1.2,0.4,0,0.6,2.0,0.5,0,0.8],
[0,0,0,0,0,0,0,0,0.4,1.0,0.5,5.8,1.2,0.6,0.3,1.0,0.4,0,0.6,0.2,0,1.0,0.4,0.2,0.8,1.8,0.5,0.2,0,0.6,1.0],
[0,0,0,0,0,0,0,0,0.2,0.8,0.4,1.0,0.6,1.8,0.5,2.4,0.8,0.3,0,0.4,1.2,0.4,0.2,1.6,0.5,0,0.3,0.8,0.3,1.2,0.4],
[0,0,0,0,0,0,0,0,0.3,0.5,1.4,0.6,0.3,1.0,2.0,0.6,0.2,0.5,1.4,0.4,0,0.6,0.2,0,0.3,1.0,0.4,0,0.5,0.2,0],
[0,0,0,0,0,0,0,0,0,0.2,0.4,0.8,1.6,0.6,0.3,0.5,0.2,0,0.3,0.6,0.2,0,0.2,0.4,0.6,0.2,0,0.3,0.5,0.2,0.3],
[0,0,0,0,0,0,0,0,0.4,0.6,0.3,1.2,0.6,3.0,1.0,0.4,1.2,0.5,0.2,0,0.8,2.0,0.6,0.2,0.6,0.3,1.5,0.5,0.2,0.8,2.4],
[0,0,0,0,0,0,0,0,0.2,0.4,0.8,0.5,1.0,0.6,0.4,2.2,0.6,0.3,0.8,0.3,0,0.5,1.2,0.4,0,0.8,0.3,0,0.6,0.4,0.2],
[0,0,0,0,0,0,0,0,0.6,7.7,1.4,0.5,0.3,1.5,0.6,0.3,0.8,0.3,0,0.6,1.8,0.5,0.2,0,0.4,1.2,0.3,0.6,2.0,0.5,0.3]
];

const hoursT = d3.range(0, 361, 12);
const hoursP = d3.range(6, 355, 12).concat([360]);

const svg = d3.select("#c");
svg.append("rect").attr("width",740).attr("height",700).attr("fill","#fff");
const x = d3.scaleLinear().domain([0,360]).range([50,691]);
const y = d3.scaleLinear().domain([-45,30]).range([546,22.5]);
const yP = d3.scaleLinear().domain([0,75]).range([546,22.5]);

// grid
const grid = svg.append("g");
d3.range(0,361,24).forEach(h=>{
  grid.append("line").attr("x1",Math.round(x(h))+0.5).attr("x2",Math.round(x(h))+0.5).attr("y1",0).attr("y2",600)
    .attr("stroke","#c0c0c0").attr("stroke-width",1.5);
});
leftTicks.forEach(v=>{
  const yy = Math.round(y(v));
  if (v===0 || v===-45) {
    grid.append("line").attr("x1",50).attr("x2",691).attr("y1",yy-0.5).attr("y2",yy-0.5).attr("stroke","#969696").attr("stroke-width",2);
    grid.append("line").attr("x1",50).attr("x2",691).attr("y1",yy+1.5).attr("y2",yy+1.5).attr("stroke","#c8c8c8").attr("stroke-width",1);
  } else if (v%10===0) {
    grid.append("line").attr("x1",50).attr("x2",691).attr("y1",yy).attr("y2",yy).attr("stroke","#c0c0c0").attr("stroke-width",2);
  } else {
    grid.append("line").attr("x1",50).attr("x2",691).attr("y1",yy+0.5).attr("y2",yy+0.5).attr("stroke","#c0c0c0").attr("stroke-width",1);
  }
});

// axes
const gl = svg.append("g").attr("transform","translate(20,0)")
  .call(d3.axisLeft(y).tickValues(leftTicks).tickSize(0).tickFormat(d=>String(d)));
gl.select(".domain").remove();
gl.attr("font-family",null).attr("font-size",null);
gl.selectAll("text").attr("x",0).attr("dy","0.35em").attr("text-anchor","start").attr("font-size","10px").attr("fill","#000");

const gr = svg.append("g").attr("transform","translate(709,0)")
  .call(d3.axisRight(yP).tickValues(rightTicks).tickSize(0).tickFormat(d=>String(d)));
gr.select(".domain").remove();
gr.attr("font-family",null).attr("font-size",null);
gr.selectAll("text").attr("x",0).attr("dy","0.35em").attr("text-anchor","start").attr("font-size","10px").attr("fill","#000");

const gb = svg.append("g").attr("transform","translate(0,600.5)")
  .call(d3.axisBottom(x).tickValues(d3.range(0,361,24)).tickSize(0).tickSizeOuter(0).tickFormat((d,i)=>dayLabels[i]));
gb.attr("font-family",null).attr("font-size",null);
gb.select(".domain").attr("stroke","#000").attr("stroke-width",1);
gb.selectAll("text").attr("transform","rotate(-90)").attr("x",-2).attr("y",8.5).attr("dy",0)
  .attr("text-anchor","end").attr("font-size","10px").attr("fill","#000");

svg.append("text").attr("x",20).attr("y",609.5).attr("font-size","10px").text("(°C)");
svg.append("text").attr("x",710).attr("y",609.5).attr("font-size","10px").text("(mm)");

// series labels
svg.append("text").attr("x",59).attr("y",166.5).attr("font-size","10px").text("Temp. 850hPa");
svg.append("text").attr("x",59).attr("y",334.5).attr("font-size","10px").text("Temp. 500hPa");
svg.append("text").attr("x",59).attr("y",537.5).attr("font-size","10px").text("Précipitations");

// lines
const lineT = (sc)=> d3.line().defined(d=>d!=null).x((d,i)=>x(hoursT[i])).y(d=>sc(d));
const lineP = d3.line().defined(d=>d!=null).x((d,i)=>x(hoursP[i])).y(d=>yP(d));
const plusPath = (vals, hrs, sc)=> vals.map((v,i)=>{const px=x(hrs[i]), py=sc(v); return `M${px-1.5},${py}h3M${px},${py-1.5}v3`;}).join("");

function bold(vals, gen, col, w){
  svg.append("path").attr("d",gen(vals)).attr("fill","none").attr("stroke",col).attr("stroke-width",w)
    .attr("stroke-linejoin","round").attr("stroke-linecap","round");
}
// control run first (members overdraw it)
bold(t850Ctrl, lineT(y), "#0000ff", 3);
bold(t500Ctrl, lineT(y), "#0000ff", 3);
bold(precipCtrl, lineP, "#0000ff", 3);

const gm = svg.append("g").attr("fill","none");
memberColors.forEach((col,m)=>{
  const sets = [[t850Members[m], hoursT, y, lineT(y)], [t500Members[m], hoursT, y, lineT(y)], [precipMembers[m], hoursP, yP, lineP]];
  sets.forEach(([vals,hrs,sc,gen])=>{
    gm.append("path").attr("d",gen(vals)).attr("stroke",col).attr("stroke-width",1);
    gm.append("path").attr("d",plusPath(vals,hrs,sc)).attr("stroke",col).attr("stroke-width",1);
  });
});

bold(t850Det, lineT(y), "#000000", 3);
bold(t500Det, lineT(y), "#000000", 3);
bold(precipDet, lineP, "#000000", 3);
bold(t850Mean, lineT(y), "#ff0000", 4);
bold(t500Mean, lineT(y), "#ff0000", 4);
bold(precipMean, lineP, "#ff0000", 4);

// legend
const lg = svg.append("g");
lg.append("line").attr("x1",35).attr("x2",66).attr("y1",637).attr("y2",637).attr("stroke","#ff0000").attr("stroke-width",4);
lg.append("text").attr("x",75).attr("y",641).attr("font-size","10px").text("Moyenne des scénarios");
lg.append("line").attr("x1",225).attr("x2",256).attr("y1",637).attr("y2",637).attr("stroke","#0000ff").attr("stroke-width",4);
lg.append("text").attr("x",265).attr("y",641).attr("font-size","10px").text("Run de contrôle");
lg.append("line").attr("x1",225).attr("x2",256).attr("y1",647.5).attr("y2",647.5).attr("stroke","#000").attr("stroke-width",4);
lg.append("text").attr("x",265).attr("y",651).attr("font-size","10px").text("Run CEP/ECMWF");
lg.append("text").attr("x",370).attr("y",656).attr("font-size","10px").text("50 Perts.");
memberColors.forEach((col,m)=>{
  const col_i = m%25, row = Math.floor(m/25);
  const cx = 430 + col_i*10.96;
  lg.append("rect").attr("x",cx).attr("y",645+row*6).attr("width",11).attr("height",6).attr("fill",col);
  lg.append("text").attr("x",cx+5.5).attr("y", row===0 ? 643.3 : 664.6).attr("text-anchor","middle")
    .attr("font-size","7.6px").attr("font-weight","bold").text(String(m+1).padStart(2,"0"));
});

// bottom box
svg.append("rect").attr("x",21).attr("y",668).attr("width",419).attr("height",31).attr("fill","none").attr("stroke","#000").attr("stroke-width",2);
svg.append("text").attr("x",30).attr("y",681.5).attr("font-size","11.6px").attr("font-weight","bold").text("Diagramme ensembles ECMWF/CEP 0.25° sur 360h pour Paris");
svg.append("text").attr("x",30).attr("y",694.5).attr("font-size","10px").text("Températures 850hPa et 500hPa (°C) , précipitations (mm)");
svg.append("text").attr("x",449).attr("y",679.5).attr("font-size","10px").text("Ensemble ECMWF/CEP du 13/11/2024 - 00Z");
svg.append("text").attr("x",449).attr("y",696).attr("font-size","11.6px").attr("font-weight","bold").text("Copyright 2024 Meteociel.fr - ECMWF");
</script></body></html>
